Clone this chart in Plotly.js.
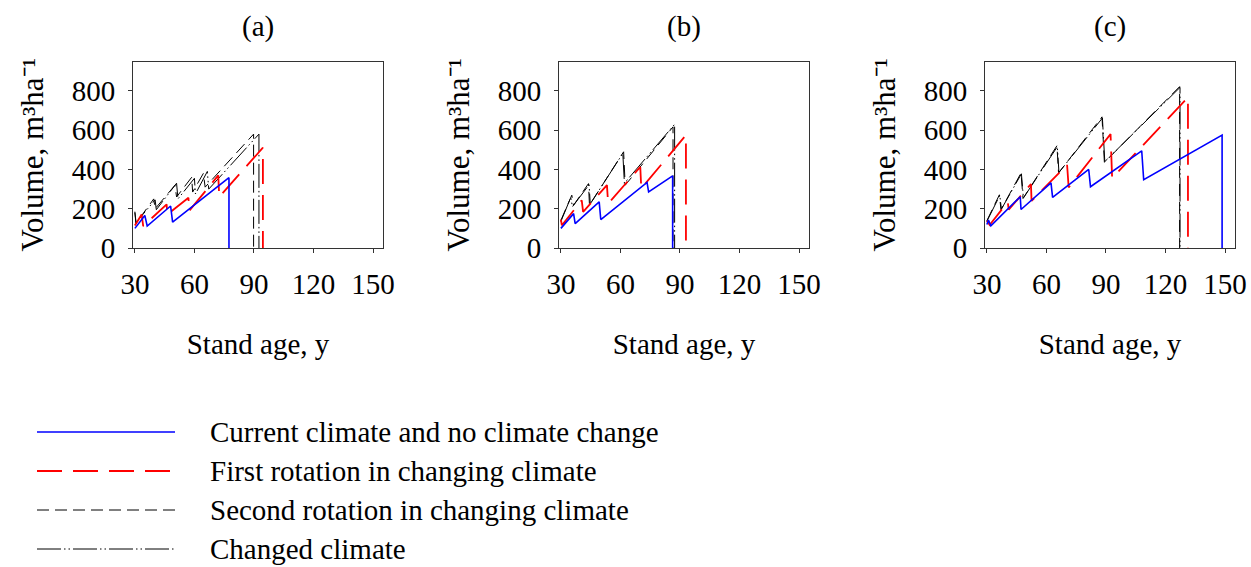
<!DOCTYPE html>
<html>
<head>
<meta charset="utf-8">
<script src="https://cdn.plot.ly/plotly-3.0.1.min.js"></script>
<style>html,body{margin:0;padding:0;background:#fff;}#chart{width:1251px;height:567px;}</style>
</head>
<body>
<div id="chart"></div>
<script>
// ---------- data (stand age in years, volume in m3/ha) ----------
const panelTitles = ["(a)", "(b)", "(c)"];
const seriesNames = ["Current climate and no climate change", "First rotation in changing climate",
                     "Second rotation in changing climate", "Changed climate"];
const xTicks = [30, 60, 90, 120, 150];
const yTicks = [0, 200, 400, 600, 800];

// panel (a)
const ageA_current = [30, 35, 36.2, 48, 49, 77.4, 77.4];
const volA_current = [100, 166, 112, 214, 132, 358, 0];
const ageA_first = [30, 33.4, 34.2, 46, 46.3, 57, 57.3, 72, 72.5, 94.5, 94.5];
const volA_first = [115, 171, 112, 222, 170, 256, 188, 370, 260, 511, 0];
const ageA_second = [30, 30.5, 39.5, 40.2, 50.2, 51, 58.6, 59.1, 64.5, 65.4, 89.8, 89.8];
const volA_second = [185, 125, 250, 200, 320, 260, 360, 285, 380, 310, 580, 0];
const ageA_changed = [30, 30.6, 40.2, 40.8, 51, 51.7, 60, 60.5, 66.5, 67.2, 92.5, 92.5];
const volA_changed = [180, 130, 245, 195, 330, 250, 355, 275, 390, 300, 580, 0];

// panel (b)
const ageB_current = [30, 36.4, 37.2, 49.3, 50.1, 73.4, 74.2, 86.3, 86.3];
const volB_current = [100, 175, 124, 235, 145, 334, 286, 367, 0];
const ageB_first = [30, 30.5, 40.5, 41.2, 53.2, 53.8, 70, 70.5, 93, 93];
const volB_first = [145, 116, 243, 184, 320, 226, 413, 303, 575, 0];
const ageB_second = [30, 35.5, 36.4, 43.9, 44.4, 61.6, 62.4, 86.5, 86.5];
const volB_second = [141, 269, 218, 328, 218, 490, 320, 617, 0];
const ageB_changed = [30, 35, 35.8, 44.2, 44.8, 61.2, 62, 87.3, 87.3];
const volB_changed = [135, 258, 210, 322, 225, 482, 330, 630, 0];

// panel (c)
const ageC_current = [30, 30.8, 32, 46.8, 47.2, 62.3, 63.1, 81.3, 82.2, 108, 109, 148.5, 148.5];
const volC_current = [120, 142, 113, 261, 196, 332, 258, 400, 312, 495, 348, 575, 0];
const ageC_first = [30, 31.4, 40.5, 41, 52.2, 52.5, 70.4, 71.2, 92.3, 93.1, 131.3, 131.3];
const volC_first = [139, 117, 235, 195, 326, 240, 424, 308, 580, 356, 768, 0];
const ageC_second = [30, 36.3, 37.1, 47.2, 48.2, 65.3, 66.1, 88, 89.2, 127.1, 127.1];
const volC_second = [139, 271, 195, 382, 252, 521, 382, 668, 436, 822, 0];
const ageC_changed = [30, 36.5, 37.3, 47.4, 48.4, 65.5, 66.3, 88.2, 89.4, 127.3, 127.3];
const volC_changed = [136, 268, 198, 378, 255, 516, 385, 662, 440, 818, 0];

// ---------- styling ----------
const FONT = "Liberation Serif, Times New Roman, Times, serif";
const FS = 29;
const W = 1251, H = 567;
const styles = [
  {color: "#0000ff", width: 1.6, dash: "solid"},
  {color: "#ff0000", width: 1.8, dash: "25px,11px"},
  {color: "#000000", width: 1, dash: "12px,6px"},
  {color: "#000000", width: 1, dash: "24px,3px,1.5px,3px,1.5px,3px"}
];

const panels = [
  [[ageA_current, volA_current], [ageA_first, volA_first], [ageA_second, volA_second], [ageA_changed, volA_changed]],
  [[ageB_current, volB_current], [ageB_first, volB_first], [ageB_second, volB_second], [ageB_changed, volB_changed]],
  [[ageC_current, volC_current], [ageC_first, volC_first], [ageC_second, volC_second], [ageC_changed, volC_changed]]
];

const plotLeft = [133, 559, 985], plotWidth = 250;
const plotTop = 61.5, plotBottom = 248;

const traces = [];
panels.forEach((series, p) => {
  const sfx = p === 0 ? "" : String(p + 1);
  [3, 2, 1, 0].forEach(s => {
    traces.push({
      type: "scatter", mode: "lines",
      x: series[s][0], y: series[s][1],
      name: seriesNames[s], showlegend: false,
      xaxis: "x" + sfx, yaxis: "y" + sfx,
      line: {color: styles[s].color, width: styles[s].width, dash: styles[s].dash},
      hoverinfo: "x+y+name"
    });
  });
});

const layout = {
  width: W, height: H,
  margin: {l: 0, r: 0, t: 0, b: 0},
  paper_bgcolor: "#ffffff", plot_bgcolor: "#ffffff",
  font: {family: FONT, size: FS, color: "#000"},
  showlegend: false,
  shapes: [], annotations: []
};

const yTitle = "Volume, m\u00B3ha\u207B\u00B9";

panels.forEach((series, p) => {
  const sfx = p === 0 ? "" : String(p + 1);
  layout["xaxis" + sfx] = {
    domain: [plotLeft[p] / W, (plotLeft[p] + plotWidth) / W],
    anchor: "y" + sfx,
    range: [29.05, 155],
    tickvals: xTicks, ticktext: xTicks.map(String),
    ticks: "outside", ticklen: 4, tickcolor: "#333",
    showline: true, mirror: true, linecolor: "#333", linewidth: 1,
    showgrid: false, zeroline: false,
    tickfont: {family: FONT, size: FS, color: "#000"},
    ticklabelstandoff: 6,
    title: {text: "Stand age, y", font: {family: FONT, size: FS, color: "#000"}, standoff: 34}
  };
  layout["yaxis" + sfx] = {
    domain: [1 - plotBottom / H, 1 - plotTop / H],
    anchor: "x" + sfx,
    range: [0, 950],
    tickvals: yTicks, ticktext: yTicks.map(String),
    ticks: "outside", ticklen: 4, tickcolor: "#333",
    showline: true, mirror: true, linecolor: "#333", linewidth: 1,
    showgrid: false, zeroline: false,
    tickfont: {family: FONT, size: FS, color: "#000"},
    ticklabelstandoff: 7,
    title: {text: yTitle, font: {family: FONT, size: 31, color: "#000"}, standoff: 18}
  };
  layout.annotations.push({
    xref: "paper", yref: "paper",
    x: (plotLeft[p] + plotWidth / 2) / W, y: 1 - 26 / H,
    xanchor: "center", yanchor: "middle",
    text: panelTitles[p], showarrow: false,
    font: {family: FONT, size: FS, color: "#000"}
  });
});

// legend drawn below the panels
const legendRows = [432, 471, 510, 549];
seriesNames.forEach((name, s) => {
  const yy = 1 - legendRows[s] / H;
  layout.shapes.push({
    type: "line", xref: "paper", yref: "paper",
    x0: 37 / W, x1: 175 / W, y0: yy, y1: yy,
    line: {color: styles[s].color, width: styles[s].width, dash: styles[s].dash}
  });
  layout.annotations.push({
    xref: "paper", yref: "paper",
    x: 208 / W, y: yy, xanchor: "left", yanchor: "middle",
    text: name, showarrow: false,
    font: {family: FONT, size: FS, color: "#000"}
  });
});

Plotly.newPlot("chart", traces, layout, {displayModeBar: false});
</script>
</body>
</html>
